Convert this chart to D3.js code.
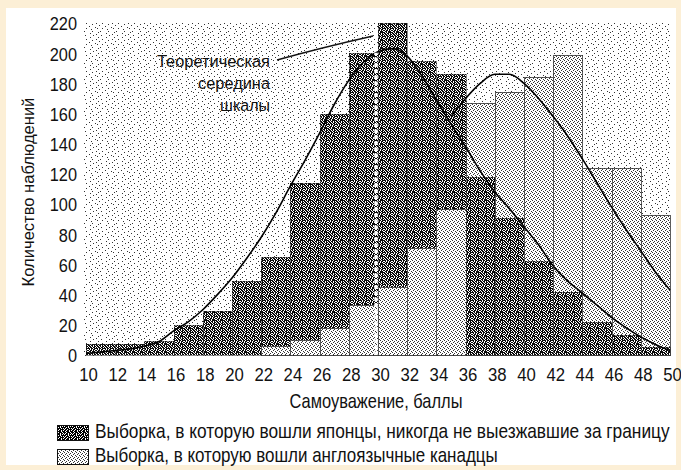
<!DOCTYPE html>
<html><head><meta charset="utf-8">
<script src="https://cdn.jsdelivr.net/npm/d3@7"></script>
<style>
html,body{margin:0;padding:0;background:#fcefd6;}
svg{display:block;}
text{font-family:"Liberation Sans",Arial,Helvetica,sans-serif;fill:#111;}
</style></head><body>
<svg id="c" width="681" height="470"></svg>
<script>
// ---- data ----
const binStarts = [10,12,14,16,18,20,22,24,26,28,30,32,34,36,38,40,42,44,46,48];
const binWidth = 2;
const japanese  = [7,7,9,20,29,49,65,114,160,200,220,195,186,118,91,62,42,22,13,5];
const canadian  = [0,0,0,0,0,0,6,10,18,33,45,71,97,167,174,184,199,124,124,93];
const japaneseCurveX = [10,11,12,13,14,15,16,17,18,19,20,21,22,23,24,25,26,27,28,29,30,31,32,33,34,35,36,37,38,39,40,41,42,43,44,45,46,47,48,49,50];
const japaneseCurve  = [1,2,3,4,6,9,16,22,30,40,51,64,78,94,112,129,147,166,182,194,201,203,198,185,169,153,138,122,108,97,85,73,59,49,41,33,25,18,12,7,3];
const canadianCurveX = [35,36,37,38,39,40,41,42,43,44,45,46,47,48,49,50];
const canadianCurve  = [158,170,180,186,186,180,170,158,145,130,114,98,83,69,55,43];
const yTicks = [0,20,40,60,80,100,120,140,160,180,200,220];
const xTicks = [10,12,14,16,18,20,22,24,26,28,30,32,34,36,38,40,42,44,46,48,50];
const midpoint = 30;
const yTitle = "Количество наблюдений";
const xTitle = "Самоуважение, баллы";
const noteLines = ["Теоретическая","середина","шкалы"];
const legendLabels = ["Выборка, в которую вошли японцы, никогда не выезжавшие за границу",
                      "Выборка, в которую вошли англоязычные канадцы"];

// ---- drawing ----
const svg = d3.select("#c");
const defs = svg.append("defs");
function makePattern(id, mask, fg, bg){
  const h = mask.length, w = mask[0].length;
  const p = defs.append("pattern").attr("id", id).attr("patternUnits","userSpaceOnUse")
    .attr("width", w).attr("height", h);
  p.append("rect").attr("width", w).attr("height", h).attr("fill", bg);
  mask.forEach((row, yy) => [...row].forEach((c, xx) => {
    if (c === "#") p.append("rect").attr("x", xx).attr("y", yy).attr("width",1).attr("height",1).attr("fill", fg);
  }));
}
makePattern("dark", ["#.#.####","##.##.#.",".##.#.##","#.##.##.","##.##.##",".#.#.##.","#.##.#.#",".##.###."], "#0a0a0a", "#fff");
makePattern("darkLeg", ["##.###.#","#.##.##.",".###.#.#","##.#.###","#.###.#.",".##.####","##.##.#.","#.###.##"], "#000", "#fff");
makePattern("light", ["#...","..#.",".#..","...#"], "#333", "#fff");
makePattern("dots", [
  "..#.............",
  "..........#.....",
  "#...............",
  ".....#.......#..",
  "................",
  "..#.......#.....",
  "................",
  "#.....#.........",
  "............#...",
  "...#............",
  ".........#......",
  "...............#",
  ".#....#.........",
  "...........#....",
  "................",
  "....#.......#..."], "#333", "#fff");

svg.append("rect").attr("width",681).attr("height",470).attr("fill","#fcefd6");
svg.append("rect").attr("x",6).attr("y",8).attr("width",670).attr("height",457).attr("fill","#fff");

const x = d3.scaleLinear().domain([10,50]).range([86,670]);
const y = d3.scaleLinear().domain([0,220]).range([355,23]);

// plot background
svg.append("rect").attr("x", x(10)-2).attr("y", y(220)-1)
  .attr("width", x(50)-x(10)+3).attr("height", y(0)-y(220)+2)
  .attr("fill","url(#dots)").attr("shape-rendering","crispEdges");

// bars: per bin, taller drawn first, shorter in front
const barData = [];
binStarts.forEach((b, i) => {
  const pair = [{b, v: japanese[i], s: "jp"}, {b, v: canadian[i], s: "ca"}]
    .filter(d => d.v > 0).sort((p, q) => q.v - p.v);
  pair.forEach(d => barData.push(d));
});
svg.append("g").selectAll("rect").data(barData).join("rect")
  .attr("x", d => Math.round(x(d.b)))
  .attr("y", d => Math.round(y(d.v)))
  .attr("width", d => Math.round(x(d.b + binWidth)) - Math.round(x(d.b)))
  .attr("height", d => Math.round(y(0)) - Math.round(y(d.v)))
  .attr("fill", d => d.s === "jp" ? "url(#dark)" : "url(#light)")
  .attr("stroke", d => d.s === "jp" ? "#222" : "#333")
  .attr("stroke-width", d => d.s === "jp" ? 0.5 : 0.8)
  .attr("shape-rendering","crispEdges");

// normal curves
const line = d3.line().x(d => x(d[0])).y(d => y(d[1])).curve(d3.curveMonotoneX);
svg.append("path").datum(japaneseCurveX.map((v,i)=>[v, japaneseCurve[i]]))
  .attr("d", line).attr("fill","none").attr("stroke","#000").attr("stroke-width",1.6);
svg.append("path").datum(canadianCurveX.map((v,i)=>[v, canadianCurve[i]]))
  .attr("d", line).attr("fill","none").attr("stroke","#000").attr("stroke-width",1.6);

// theoretical midpoint dotted line
const midTop = japaneseCurve[japaneseCurveX.indexOf(midpoint)];
svg.append("line").attr("x1", x(midpoint)-2).attr("x2", x(midpoint)-2)
  .attr("y1", y(0)).attr("y2", y(midTop)+1)
  .attr("stroke","#fff").attr("stroke-width",3.5).attr("stroke-dasharray","3.5,2.5");

// helper: text squeezed horizontally to a target width
function fitText(sel, target){
  const n = sel.node().getComputedTextLength();
  const k = Math.min(1.3, target / n);
  const ax = +sel.attr("x") || 0, ay = +sel.attr("y") || 0;
  sel.attr("transform", (sel.attr("transform") || "") + ` translate(${ax},${ay}) scale(${k},1) translate(${-ax},${-ay})`);
}

// annotation leader
svg.append("path")
  .attr("d", `M277,60 Q320,48 ${x(midpoint)-5},36`)
  .attr("fill","none").attr("stroke","#111").attr("stroke-width",1.3);
const noteW = [113,72,50], noteY = [67,89,111];
noteLines.forEach((t,i) => {
  const s = svg.append("text").attr("x",270).attr("y",noteY[i]).attr("text-anchor","end")
    .attr("font-size",17).text(t);
  fitText(s, noteW[i]);
});

// axes
const yAxis = svg.append("g").attr("transform","translate(79,0)")
  .call(d3.axisLeft(y).tickValues(yTicks).tickSize(0).tickPadding(0));
yAxis.select(".domain").remove();
yAxis.selectAll("text").attr("x",0).attr("dy","0.36em").attr("font-size",19)
  .attr("transform","translate(-2,0) scale(0.86,1)").style("font-family","'Liberation Sans',Arial,sans-serif").attr("fill","#111");

const xAxis = svg.append("g").attr("transform",`translate(0,${y(0)})`)
  .call(d3.axisBottom(x).tickValues(xTicks).tickSize(0).tickPadding(0));
xAxis.select(".domain").remove();
xAxis.selectAll("text").attr("y",0).attr("dy",0).attr("font-size",19)
  .attr("transform","translate(2,26) scale(0.88,1)").style("font-family","'Liberation Sans',Arial,sans-serif").attr("fill","#111");

// axis titles
const yt = svg.append("text").attr("x",0).attr("y",0).attr("text-anchor","middle")
  .attr("font-size",17).text(yTitle);
const ytk = 189 / yt.node().getComputedTextLength();
yt.attr("transform",`translate(34,192) rotate(-90) scale(${ytk},1)`);
const xt = svg.append("text").attr("x",376).attr("y",408).attr("text-anchor","middle")
  .attr("font-size",20).text(xTitle);
fitText(xt, 173);

// legend
const legY = [425, 449], legTextY = [438, 462], legW = [575, 403];
legendLabels.forEach((t,i) => {
  svg.append("rect").attr("x",57).attr("y",legY[i]).attr("width",31).attr("height",15)
    .attr("fill", i === 0 ? "url(#darkLeg)" : "url(#light)").attr("stroke","#111").attr("stroke-width",1)
    .attr("shape-rendering","crispEdges");
  const s = svg.append("text").attr("x",95).attr("y",legTextY[i]).attr("font-size",20).text(t);
  fitText(s, legW[i]);
});
</script>
</body></html>
